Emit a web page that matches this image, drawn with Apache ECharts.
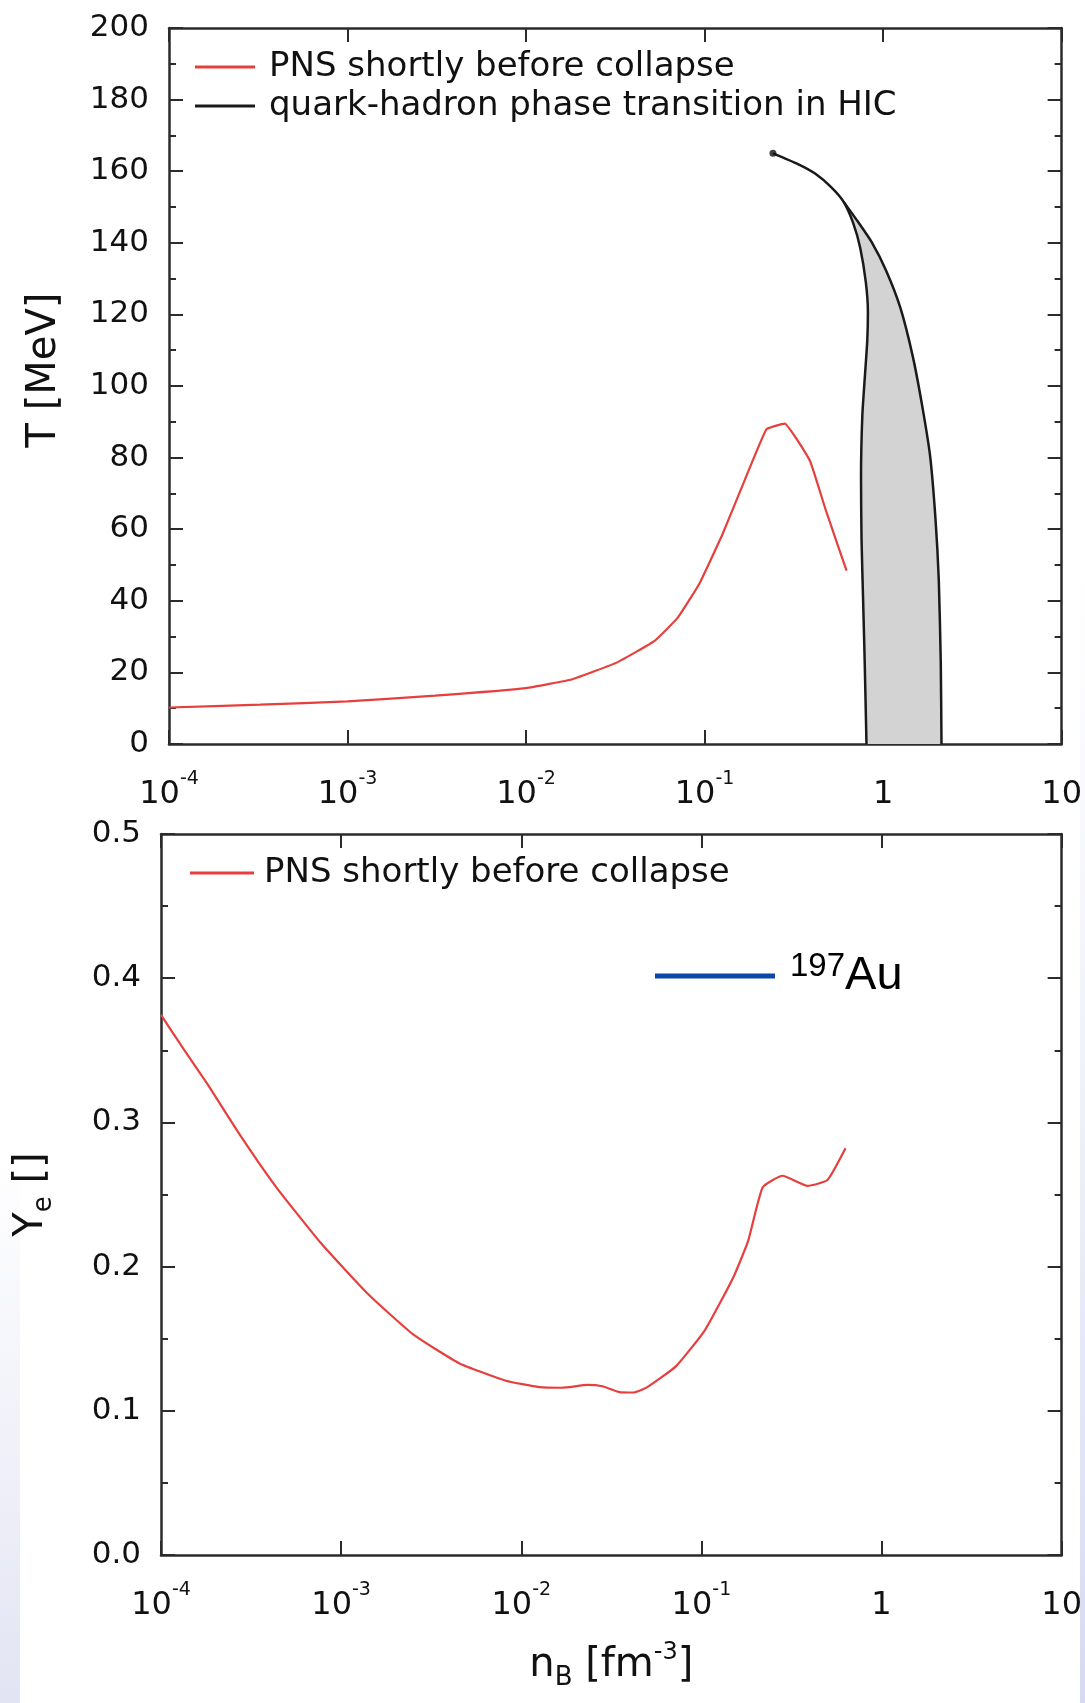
<!DOCTYPE html>
<html>
<head>
<meta charset="utf-8">
<script src="https://cdn.jsdelivr.net/npm/echarts@6/dist/echarts.min.js"></script>
<style>html,body{margin:0;padding:0;background:#fff}#c{width:1085px;height:1703px}</style>
</head>
<body>
<div id="c"></div>
<script>
// ---- Data ----
// Top panel: PNS temperature profile
const nPNS_T = [0.0001, 0.000324, 0.001, 0.00309, 0.01, 0.0182, 0.0324, 0.0525, 0.0708, 0.0933, 0.126, 0.170, 0.222, 0.281, 0.389, 0.479, 0.624];
const T_PNS  = [10.2, 11.0, 11.9, 13.5, 15.6, 18.1, 22.8, 28.8, 35.3, 44.7, 58.6, 74.4, 87.9, 89.5, 79.1, 65.1, 48.4];
// Quark-hadron phase transition (HIC): left (inner) branch incl. common upper part
const nQL = [0.2415, 0.3334, 0.414, 0.513, 0.600, 0.680, 0.745, 0.800, 0.822, 0.815, 0.792, 0.765, 0.752, 0.757, 0.773, 0.789, 0.807];
const TQL = [165, 162.0, 159.4, 155.5, 151.5, 145.5, 138.5, 129, 120.7, 112.6, 103.3, 91.8, 74.5, 57.2, 39.8, 22.5, 0];
const splitIndex = 4;
// right (outer) branch, starting at split point
const nQR = [0.600, 0.720, 0.860, 1.040, 1.250, 1.470, 1.660, 1.835, 1.965, 2.051, 2.104, 2.123];
const TQR = [151.5, 146, 140.3, 132.2, 121.8, 108, 94.1, 80.3, 62.9, 45.6, 22.5, 0];
// start dot of HIC curve
const nDot = [0.2415];
const TDot = [165];
// Bottom panel: PNS electron fraction
const nPNS_Y = [0.0001, 0.000135, 0.00018, 0.000279, 0.000437, 0.000776, 0.00141, 0.00251, 0.00452, 0.00813, 0.0126, 0.0168, 0.0234, 0.0282, 0.0350, 0.0421, 0.0501, 0.0724, 0.1047, 0.151, 0.182, 0.219, 0.282, 0.389, 0.501, 0.631];
const Ye_PNS = [0.3745, 0.350, 0.327, 0.290, 0.255, 0.216, 0.181, 0.153, 0.133, 0.121, 0.1164, 0.116, 0.118, 0.117, 0.113, 0.1127, 0.1164, 0.131, 0.156, 0.193, 0.218, 0.255, 0.263, 0.256, 0.260, 0.282];
// Tick labels
const xTickExp = [-4, -3, -2, -1, 0, 1];
const xTickLabels = ['{b|10}{s|-4}', '{b|10}{s|-3}', '{b|10}{s|-2}', '{b|10}{s|-1}', '{b|1}', '{b|10}'];
const legendTop = ['PNS shortly before collapse', 'quark-hadron phase transition in HIC'];
const legendBottom = ['PNS shortly before collapse'];
const legendAu = ['197Au'];

// ---- Build ----
const zip = (a, b) => a.map((v, i) => [v, b[i]]);
const polyN = nQL.slice(splitIndex).concat(nQR.slice().reverse());
const polyT = TQL.slice(splitIndex).concat(TQR.slice().reverse());

const FONT = 'DejaVu Sans';
const AX = '#2b2b2b';
const RED = '#e6403e';
const BLK = '#1a1a1a';

function xLabel(v) {
  const e = Math.round(Math.log10(v));
  const i = xTickExp.indexOf(e);
  return i >= 0 ? xTickLabels[i] : '';
}
const xRich = {
  b: { fontFamily: FONT, fontSize: 32, lineHeight: 50, color: '#111' },
  s: { fontFamily: FONT, fontSize: 19, lineHeight: 20, verticalAlign: 'top', color: '#111' }
};
function logX(gridIndex, pos, labels, extra) {
  return Object.assign({
    gridIndex, type: 'log', logBase: 10, min: 1e-4, max: 10, position: pos,
    axisLine: { show: true, onZero: false, lineStyle: { color: AX, width: 2.5 } },
    axisTick: { show: true, inside: true, length: 14, lineStyle: { color: AX, width: 2 } },
    minorTick: { show: false },
    splitLine: { show: false }, minorSplitLine: { show: false },
    axisLabel: labels ? { show: true, formatter: xLabel, rich: xRich, margin: 26, color: '#111' } : { show: false }
  }, extra || {});
}
function valY(gridIndex, pos, min, max, interval, labels, fmt, extra) {
  return Object.assign({
    gridIndex, type: 'value', min, max, interval, position: pos,
    axisLine: { show: true, onZero: false, lineStyle: { color: AX, width: 2.5 } },
    axisTick: { show: true, inside: true, length: 14, lineStyle: { color: AX, width: 2 } },
    minorTick: { show: true, splitNumber: 2, length: 7, lineStyle: { color: AX, width: 2 } },
    splitLine: { show: false },
    axisLabel: labels ? { show: true, fontFamily: FONT, fontSize: 31, color: '#111', margin: 20, formatter: fmt } : { show: false }
  }, extra || {});
}

const chart = echarts.init(document.getElementById('c'), null, { renderer: 'canvas' });
const option = {
  animation: false,
  backgroundColor: '#ffffff',
  graphic: [
    { type: 'rect', left: 0, top: 1150, z: -10, shape: { width: 20, height: 553 },
      style: { fill: new echarts.graphic.LinearGradient(0, 0, 0, 1, [{ offset: 0, color: 'rgba(228,230,244,0)' }, { offset: 1, color: 'rgba(226,228,243,1)' }]) } },
    { type: 'rect', left: 1080, top: 560, z: -10, shape: { width: 5, height: 1143 },
      style: { fill: new echarts.graphic.LinearGradient(0, 0, 0, 1, [{ offset: 0, color: 'rgba(228,230,244,0)' }, { offset: 1, color: 'rgba(214,218,240,1)' }]) } }
  ],
  grid: [
    { left: 169, top: 28, width: 895, height: 716 },
    { left: 161, top: 834, width: 902, height: 721 }
  ],
  legend: [
    { data: legendTop, orient: 'vertical', left: 190, top: 43, itemWidth: 60, itemHeight: 3, itemGap: 1, icon: 'rect',
      textStyle: { fontFamily: FONT, fontSize: 34, color: '#111', lineHeight: 38, padding: [0, 0, 0, 9] }, selectedMode: false },
    { data: legendBottom, orient: 'vertical', left: 185, top: 849, itemWidth: 64, itemHeight: 3, icon: 'rect',
      textStyle: { fontFamily: FONT, fontSize: 34, color: '#111', lineHeight: 38, padding: [0, 0, 0, 5] }, selectedMode: false },
    { data: legendAu, orient: 'vertical', left: 650, top: 945, itemWidth: 120, itemHeight: 5, icon: 'rect', selectedMode: false,
      formatter: () => '{s|197}{b|Au}',
      textStyle: { padding: [0, 0, 0, 10], rich: {
        b: { fontFamily: 'Liberation Sans', fontSize: 47, lineHeight: 52, color: '#000' },
        s: { fontFamily: 'Liberation Sans', fontSize: 33, lineHeight: 33, verticalAlign: 'top', color: '#000' } } } }
  ],
  xAxis: [
    logX(0, 'bottom', true),
    logX(0, 'top', false),
    logX(1, 'bottom', true, {
      name: '{a|n}{sub|B}{a| [fm}{sup|-3}{a|]}', nameLocation: 'middle', nameGap: 86,
      nameTextStyle: { rich: {
        a: { fontFamily: FONT, fontSize: 40, lineHeight: 50, color: '#111' },
        sub: { fontFamily: FONT, fontSize: 26, lineHeight: 26, verticalAlign: 'bottom', color: '#111' },
        sup: { fontFamily: FONT, fontSize: 24, lineHeight: 24, verticalAlign: 'top', color: '#111' } } }
    }),
    logX(1, 'top', false)
  ],
  yAxis: [
    valY(0, 'left', 0, 200, 20, true, v => String(v), {
      name: 'T [MeV]', nameLocation: 'middle', nameGap: 104,
      nameTextStyle: { fontFamily: FONT, fontSize: 40, color: '#111', padding: [0, 0, 0, 32] }
    }),
    valY(0, 'right', 0, 200, 20, false),
    valY(1, 'left', 0, 0.5, 0.1, true, v => v.toFixed(1), {
      name: '{a|Y}{sub|e}{a| []}', nameLocation: 'middle', nameGap: 104,
      nameTextStyle: { rich: {
        a: { fontFamily: FONT, fontSize: 40, lineHeight: 50, color: '#111' },
        sub: { fontFamily: FONT, fontSize: 26, lineHeight: 26, verticalAlign: 'bottom', color: '#111' } } }
    }),
    valY(1, 'right', 0, 0.5, 0.1, false)
  ],
  series: [
    { name: 'HIC region', type: 'custom', xAxisIndex: 0, yAxisIndex: 0, z: 1, silent: true, clip: true,
      data: zip(polyN, polyT),
      renderItem: function (params, api) {
        if (params.dataIndex !== 0) return null;
        const pts = polyN.map((n, i) => api.coord([n, polyT[i]]));
        return { type: 'polygon', shape: { points: pts }, style: { fill: '#d3d3d3', stroke: null } };
      } },
    { name: 'PNS shortly before collapse', type: 'line', xAxisIndex: 0, yAxisIndex: 0, z: 3, smooth: 0.1,
      data: zip(nPNS_T, T_PNS), symbol: 'none', color: RED, lineStyle: { color: RED, width: 2.2 } },
    { name: 'quark-hadron phase transition in HIC', type: 'line', xAxisIndex: 0, yAxisIndex: 0, z: 3, smooth: 0.2,
      data: zip(nQL, TQL), symbol: 'none', color: BLK, lineStyle: { color: BLK, width: 2.5 } },
    { name: 'HIC outer', type: 'line', xAxisIndex: 0, yAxisIndex: 0, z: 3, smooth: 0.2,
      data: zip(nQR, TQR), symbol: 'none', color: BLK, lineStyle: { color: BLK, width: 2.5 } },
    { name: 'HIC start', type: 'scatter', xAxisIndex: 0, yAxisIndex: 0, z: 4,
      data: zip(nDot, TDot), symbol: 'circle', symbolSize: 7, itemStyle: { color: '#111' } },
    { name: 'PNS shortly before collapse', type: 'line', xAxisIndex: 2, yAxisIndex: 2, z: 3, smooth: 0.15,
      data: zip(nPNS_Y, Ye_PNS), symbol: 'none', color: RED, lineStyle: { color: RED, width: 2.2 } },
    { name: '197Au', type: 'line', xAxisIndex: 2, yAxisIndex: 2, data: [], symbol: 'none',
      color: '#0b47a8', lineStyle: { color: '#0b47a8', width: 5 } }
  ]
};
chart.setOption(option);
</script>
</body>
</html>
